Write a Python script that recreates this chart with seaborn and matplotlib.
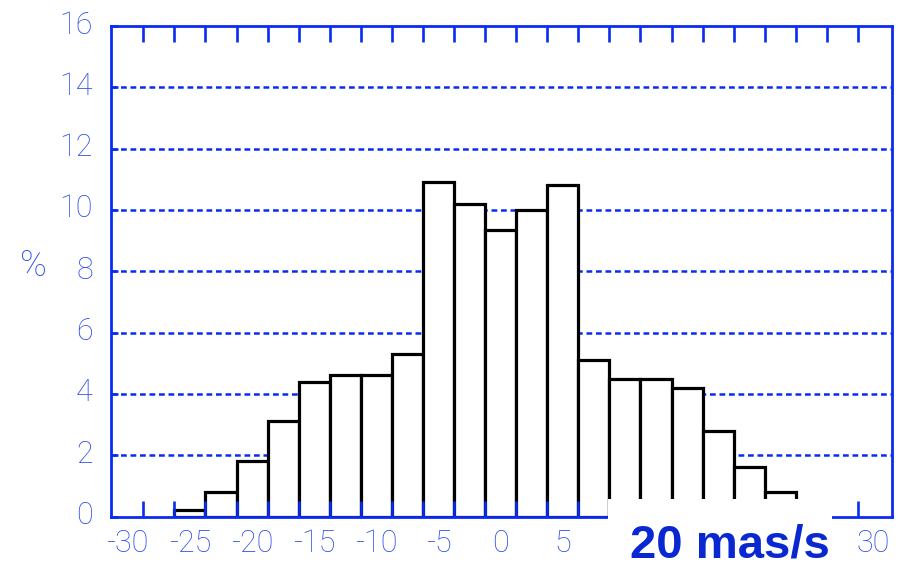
import numpy as np
import pandas as pd
import matplotlib
matplotlib.use("Agg")
import matplotlib.pyplot as plt
import seaborn as sns
from matplotlib.patches import Rectangle
from matplotlib.transforms import ScaledTranslation

# ---- data (percent per 2.5 mas/s bin) ----
bin_centers = [-25, -22.5, -20, -17.5, -15, -12.5, -10, -7.5, -5, -2.5,
               0, 2.5, 5, 7.5, 10, 12.5, 15, 17.5, 20, 22.5]
percent = [0.2, 0.8, 1.8, 3.1, 4.4, 4.6, 4.6, 5.3, 10.9, 10.2,
           9.35, 10.0, 10.8, 5.1, 4.5, 4.5, 4.2, 2.8, 1.6, 0.8]
bin_width = 2.5
x_ticks = [-30, -25, -20, -15, -10, -5, 0, 5, 10, 15, 20, 25, 30]
# labels 10..25 are hidden behind the white annotation box in the reference
x_tick_labels = ["-30", "-25", "-20", "-15", "-10", "-5", "0", "5", "", "", "", "", "30"]
y_ticks = [0, 2, 4, 6, 8, 10, 12, 14, 16]
annotation = "20 mas/s"
y_label = "%"

df = pd.DataFrame({"v": bin_centers, "pct": percent})
edges = [c - bin_width / 2 for c in bin_centers] + [bin_centers[-1] + bin_width / 2]

sns.set_style("white")
plt.rcParams["font.family"] = ["Roboto", "DejaVu Sans"]

BLUE = "#0a2cf2"
LABEL_BLUE = "#2f4cec"
TEXT_BLUE = "#0a28d2"

fig = plt.figure(figsize=(9.01, 5.62), dpi=100)
ax = fig.add_axes([111 / 901, 1 - 516.5 / 562, 780.5 / 901, 490.5 / 562])

# grid lines (behind bars)
for yv in y_ticks[1:-1]:
    ax.axhline(yv, color=BLUE, lw=1.8, ls=(0, (2.3, 1.5)), zorder=0.5)

sns.histplot(data=df, x="v", weights="pct", bins=edges, stat="count",
             color="white", edgecolor="black", linewidth=2.3, alpha=1,
             ax=ax, zorder=1)

ax.set_xlim(-31.35, 31.45)
ax.set_ylim(0, 16)
ax.set_axisbelow(False)

for s in ax.spines.values():
    s.set_visible(True)
    s.set_color(BLUE)
    s.set_linewidth(2.0)
    s.set_zorder(3)

ax.set_xticks(x_ticks)
ax.set_xticklabels(x_tick_labels)
minor_pos = [m - 28.75 for m in np.arange(0, 57.6, bin_width)]
ax.set_xticks(minor_pos, minor=True)
ax.set_yticks(y_ticks)
ax.set_yticklabels([str(t) for t in y_ticks])

ax.tick_params(axis="x", which="major", length=0, pad=9, labelsize=22,
               labelcolor=LABEL_BLUE)
ax.tick_params(axis="x", which="minor", direction="in", length=11.5,
               width=1.9, color=BLUE, top=True, bottom=True)
ax.tick_params(axis="y", which="major", direction="in", length=5,
               width=1.8, color=BLUE, left=True, right=False, pad=13,
               labelsize=22, labelcolor=LABEL_BLUE)
for lab in ax.get_xticklabels() + ax.get_yticklabels():
    lab.set_fontweight("light")
for lab in ax.get_yticklabels():
    lab.set_transform(lab.get_transform() +
                      ScaledTranslation(0, 4 / 100, fig.dpi_scale_trans))

ax.set_xlabel("")
ax.set_ylabel(y_label, rotation=0, fontsize=26, color=LABEL_BLUE,
              fontweight="light", va="center", ha="center")
ax.yaxis.set_label_coords(-0.0999, 0.511)

# white box with the scale annotation
fig.add_artist(Rectangle((608 / 901, -0.01), (832 - 608) / 901, 0.01 + 1 - 499 / 562,
                         transform=fig.transFigure, facecolor="white",
                         edgecolor="none", zorder=5))
fig.text(730 / 901, 1 - 557 / 562, annotation, ha="center", va="baseline",
         fontsize=34, fontweight="bold", color=TEXT_BLUE,
         family=["Liberation Sans", "DejaVu Sans"], zorder=6)

fig.savefig("out.png", dpi=100)
